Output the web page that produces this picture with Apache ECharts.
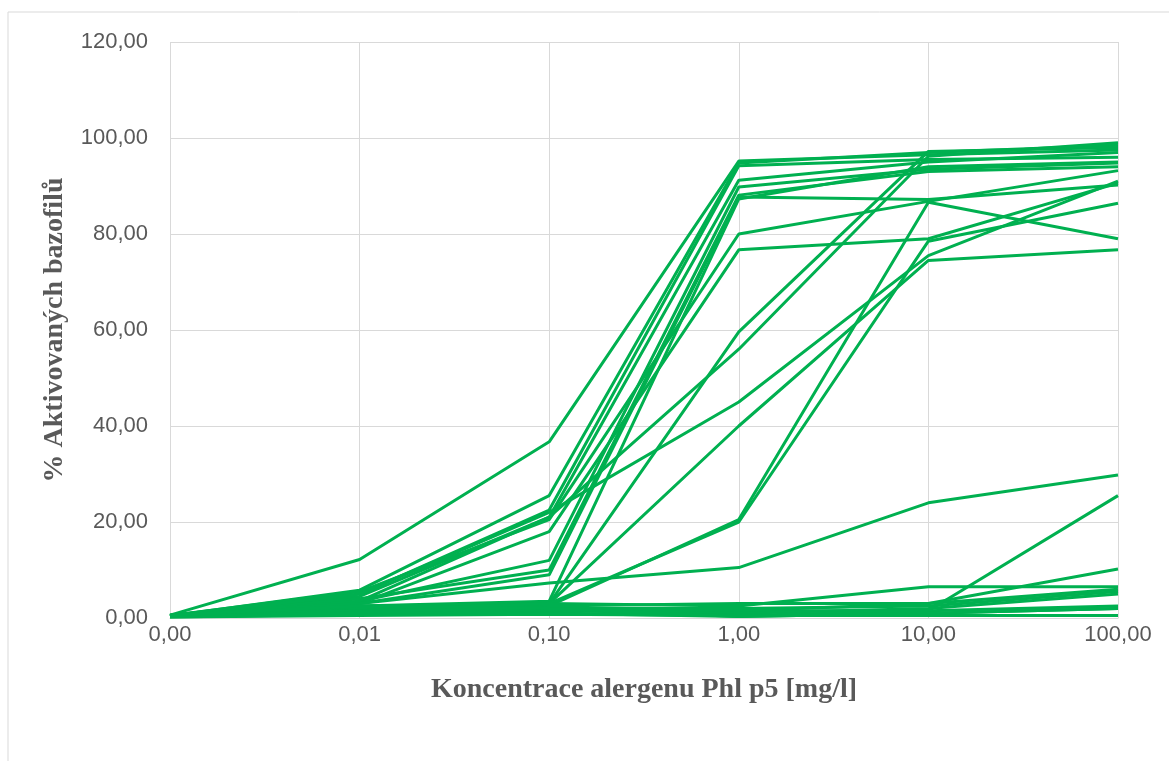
<!DOCTYPE html>
<html>
<head>
<meta charset="utf-8">
<script src="https://cdn.jsdelivr.net/npm/echarts@6/dist/echarts.min.js"></script>
<style>
  html, body { margin: 0; padding: 0; background: #fff; }
  #chart { width: 1169px; height: 761px; }
</style>
</head>
<body>
<div id="chart"></div>
<script>
// Phl p5 concentrations (mg/l), evenly spaced categories
const concentrations = ['0,00', '0,01', '0,10', '1,00', '10,00', '100,00'];

// Basophil activation (%) per subject, one array per curve
const s01 = [0.6, 12.2, 36.7, 95.2, 96.5, 97.5];
const s02 = [0.4, 5.8, 25.5, 94.8, 97.0, 98.5];
const s03 = [0.5, 5.0, 22.5, 94.2, 95.5, 96.0];
const s04 = [0.3, 4.5, 21.0, 91.2, 95.0, 97.0];
const s05 = [0.4, 3.5, 12.0, 89.8, 93.5, 94.8];
const s06 = [0.5, 4.0, 10.0, 88.1, 93.0, 94.0];
const s07 = [0.3, 3.0, 9.0, 87.7, 87.2, 90.2];
const s08 = [0.3, 2.5, 3.5, 87.3, 94.0, 95.0];
const s09 = [0.5, 5.5, 20.5, 80.0, 86.8, 93.2];
const s10 = [0.4, 3.0, 18.0, 76.7, 79.0, 90.6];
const s11 = [0.4, 2.0, 3.0, 59.6, 97.2, 98.0];
const s12 = [0.3, 3.5, 21.0, 56.0, 96.2, 99.0];
const s13 = [0.4, 5.0, 22.0, 45.0, 75.5, 91.0];
const s14 = [0.3, 2.5, 3.0, 40.0, 74.5, 76.7];
const s15 = [0.5, 1.5, 2.5, 20.5, 86.6, 79.0];
const s16 = [0.3, 1.0, 3.0, 20.0, 78.5, 86.4];
const s17 = [0.5, 3.0, 7.3, 10.5, 24.0, 29.8];
const s18 = [0.5, 1.0, 1.5, 1.5, 1.5, 25.5];
const s19 = [0.3, 2.0, 2.5, 3.0, 3.0, 10.2];
const s20 = [0.4, 1.5, 3.0, 2.5, 6.5, 6.5];
const s21 = [0.3, 1.0, 2.0, 1.5, 3.0, 6.0];
const s22 = [0.5, 1.5, 2.0, 2.0, 2.5, 5.5];
const s23 = [0.2, 0.8, 1.5, 1.0, 2.0, 5.0];
const s24 = [0.3, 1.2, 1.0, 0.5, 1.5, 2.5];
const s25 = [0.4, 1.0, 1.0, 0.3, 1.0, 2.0];
const s26 = [0.2, 0.5, 0.8, 0.5, 0.5, 0.5];
const s27 = [0.6, 2.5, 2.0, 0.3, 1.0, 2.0];

const curves = [s01, s02, s03, s04, s05, s06, s07, s08, s09, s10, s11, s12, s13, s14,
                s15, s16, s17, s18, s19, s20, s21, s22, s23, s24, s25, s26, s27];

const lineColor = '#00B050';
const labelFont = '"Liberation Sans", Arial, sans-serif';
const titleFont = '"Liberation Serif", "Times New Roman", serif';

const fmt = v => v.toFixed(2).replace('.', ',');

const chart = echarts.init(document.getElementById('chart'), null, { renderer: 'canvas' });
chart.setOption({
  backgroundColor: '#ffffff',
  animation: false,
  graphic: [{
    type: 'rect',
    shape: { x: 8, y: 12, width: 1200, height: 800 },
    style: { fill: 'none', stroke: '#d9d9d9', lineWidth: 1 },
    silent: true
  }],
  grid: { left: 170, right: 51, top: 42, bottom: 143 },
  xAxis: {
    type: 'category',
    data: concentrations,
    boundaryGap: false,
    name: 'Koncentrace alergenu Phl p5 [mg/l]',
    nameLocation: 'middle',
    nameGap: 58,
    nameTextStyle: { fontFamily: titleFont, fontWeight: 'bold', fontSize: 28, color: '#595959' },
    axisLine: { show: true, lineStyle: { color: '#d9d9d9', width: 1 } },
    axisTick: { show: false },
    axisLabel: { fontFamily: labelFont, fontSize: 22, color: '#595959', margin: 6 },
    splitLine: { show: true, lineStyle: { color: '#d9d9d9', width: 1 } }
  },
  yAxis: {
    type: 'value',
    min: 0,
    max: 120,
    interval: 20,
    name: '% Aktivovaných bazofilů',
    nameLocation: 'middle',
    nameGap: 101,
    nameRotate: 90,
    nameTextStyle: { fontFamily: titleFont, fontWeight: 'bold', fontSize: 28, color: '#595959' },
    axisLine: { show: false },
    axisTick: { show: false },
    axisLabel: { fontFamily: labelFont, fontSize: 22, color: '#595959', margin: 22, formatter: fmt },
    splitLine: { show: true, lineStyle: { color: '#d9d9d9', width: 1 } }
  },
  series: curves.map((d, i) => ({
    name: 'P' + (i + 1),
    type: 'line',
    data: d,
    symbol: 'none',
    smooth: false,
    lineStyle: { color: lineColor, width: 3 },
    itemStyle: { color: lineColor }
  }))
});
</script>
</body>
</html>
